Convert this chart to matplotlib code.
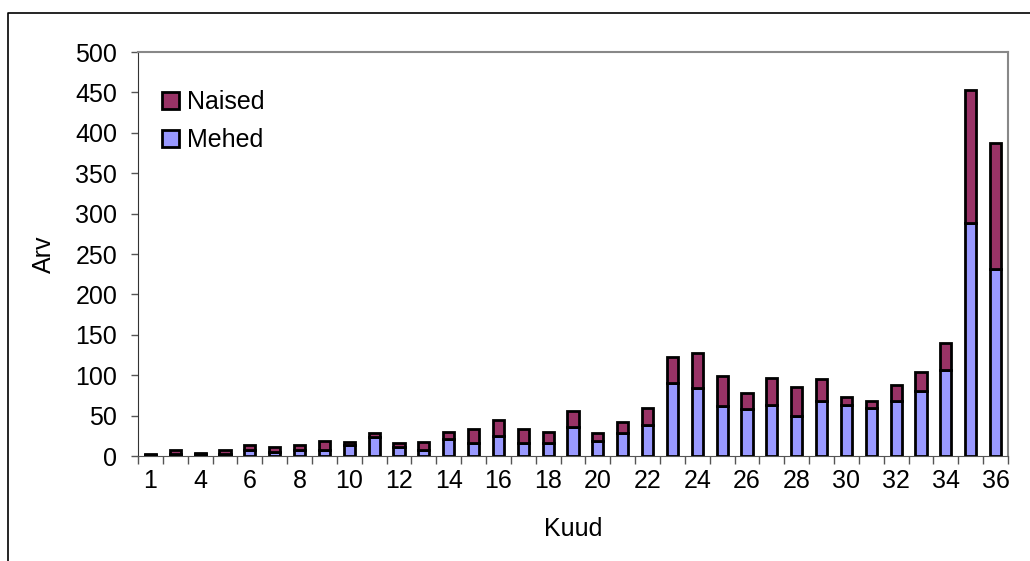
import numpy as np
import matplotlib
matplotlib.use("Agg")
import matplotlib.pyplot as plt
from matplotlib.lines import Line2D
from matplotlib.ticker import FixedLocator, MultipleLocator

plt.rcParams['font.family'] = ['Liberation Sans', 'DejaVu Sans']

## data ##
kuud = ['1', '3', '4', '5', '6', '7', '8', '9', '10', '11', '12', '13', '14', '15',
        '16', '17', '18', '19', '20', '21', '22', '23', '24', '25', '26', '27', '28',
        '29', '30', '31', '32', '33', '34', '35', '36']
mehed = [1, 3, 2, 3, 8, 5, 8, 8, 13, 24, 11, 8, 21, 16, 25, 16, 16, 36, 18, 29,
         38, 90, 84, 62, 58, 63, 49, 68, 63, 60, 68, 81, 107, 288, 232]
naised = [1, 4, 2, 4, 5, 6, 5, 10, 4, 5, 5, 9, 9, 17, 20, 18, 14, 20, 10, 13,
          22, 32, 43, 37, 20, 33, 36, 27, 10, 8, 20, 23, 33, 165, 155]

W, H = 1030, 561
FS = 18
fig = plt.figure(figsize=(W / 100, H / 100), dpi=100)
ax = fig.add_axes([138 / W, 1 - 456 / H, (1008 - 138) / W, (456 - 52) / H])

x = np.arange(len(kuud))
ax.bar(x, mehed, width=0.45, color='#9999FF', edgecolor='black', linewidth=2,
       label='Mehed', zorder=3)
ax.bar(x, naised, width=0.45, bottom=mehed, color='#993366', edgecolor='black',
       linewidth=2, label='Naised', zorder=3)

ax.set_xlim(-0.5, len(kuud) - 0.5)
ax.set_ylim(0, 500)
ax.yaxis.set_major_locator(MultipleLocator(50))

# labels on every other category, tick marks between the categories
ax.xaxis.set_major_locator(FixedLocator(x[::2]))
ax.set_xticklabels(kuud[::2])
ax.xaxis.set_minor_locator(FixedLocator(np.arange(len(kuud) + 1) - 0.5))
ax.tick_params(axis='x', which='major', length=0, pad=9, labelsize=FS)
ax.tick_params(axis='x', which='minor', length=6, width=1, color='#555555', direction='out')
ax.tick_params(axis='y', length=5, width=1, color='#555555', labelsize=FS, pad=10)

for s in ['top', 'right']:
    ax.spines[s].set_color('#888888')
    ax.spines[s].set_linewidth(1.5)
ax.spines['left'].set_color('#333333')
ax.spines['bottom'].set_color('#555555')

ax.set_xlabel('Kuud', fontsize=FS, labelpad=18)
ax.set_ylabel('Arv', fontsize=FS, labelpad=14)

h, l = ax.get_legend_handles_labels()
ax.legend(h[::-1], l[::-1], loc='upper left', bbox_to_anchor=(0.016, 0.93), frameon=False,
          fontsize=FS, handlelength=0.7, handleheight=0.7, handletextpad=0.3,
          labelspacing=0.55, borderaxespad=0)

# outer chart frame
fig.add_artist(Line2D([8 / W, 8 / W, 1], [0, 1 - 13 / H, 1 - 13 / H],
                      transform=fig.transFigure, color='black', linewidth=1.2))

fig.savefig('out.png', dpi=100)
